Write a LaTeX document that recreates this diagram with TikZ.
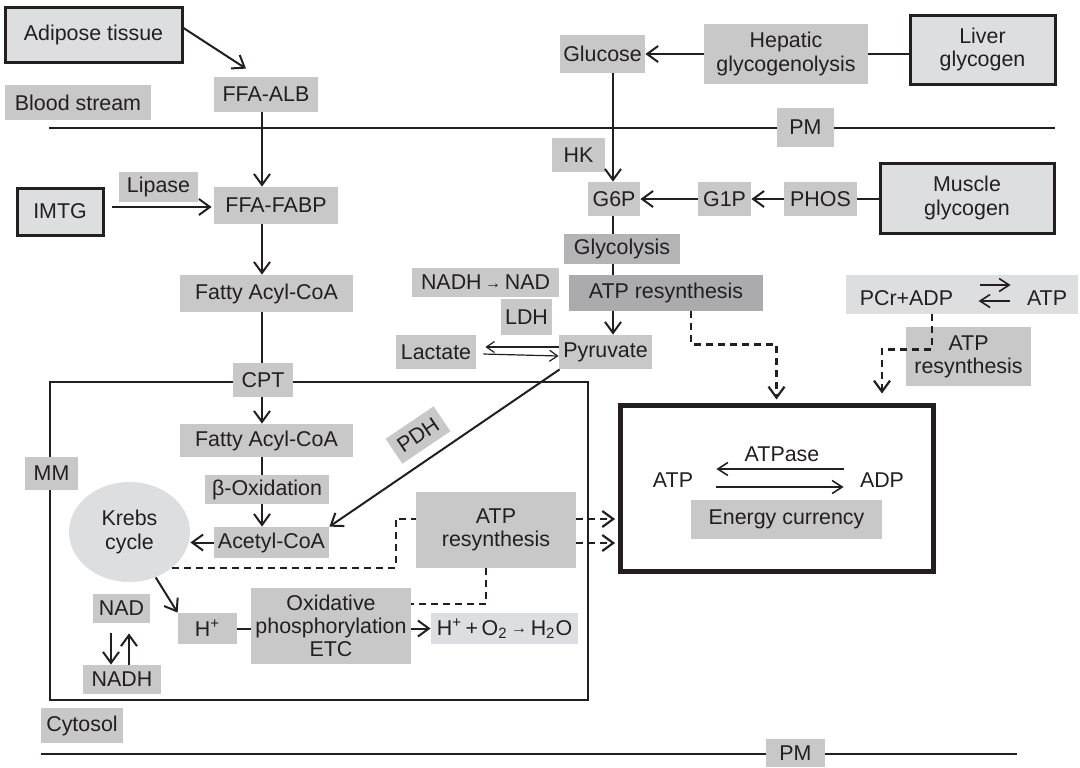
\documentclass[tikz,border=0pt]{standalone}
\usepackage{fontspec}
\setmainfont{Liberation Sans}
\usetikzlibrary{arrows.meta,shapes.geometric}
\definecolor{gfill}{HTML}{C8C8C9}
\definecolor{lfill}{HTML}{DDDEE0}
\definecolor{dfillA}{HTML}{B4B4B6}
\definecolor{dfillB}{HTML}{ABABAD}
\definecolor{ink}{HTML}{231F20}
\newcommand{\smallarr}{\,{\fontsize{8}{8}\selectfont\raisebox{0.6pt}{→}}\,}
\begin{document}
\begin{tikzpicture}[x=0.5pt,y=-0.5pt,
  every node/.style={font=\fontsize{10.7}{11.6}\selectfont, text=ink, inner sep=0pt, align=center},
  sz/.style 2 args={minimum width=#1*0.5pt, minimum height=#2*0.5pt},
  gbox/.style={fill=gfill},
  tbox/.style={fill=lfill, draw=ink, line width=1.5pt},
  arr/.style={draw=ink, line width=1pt, -{Straight Barb[length=5.5pt,width=8pt]}},
  plain/.style={draw=ink, line width=1pt},
  thinarr/.style={draw=ink, line width=0.6pt, -{Straight Barb[length=4pt,width=5.5pt]}},
  midarr/.style={draw=ink, line width=0.8pt, -{Straight Barb[length=5pt,width=6.5pt]}},
  dsh/.style={draw=ink, line width=1.1pt, dash pattern=on 3.5pt off 2.5pt},
  dsharr/.style={dsh, -{Straight Barb[length=5.5pt,width=8pt]}},
]
\useasboundingbox (0,0) rectangle (1080,767);
\coordinate (vx) at (262,0);
\coordinate (vg) at (613,0);
% membranes and mitochondrion
\draw[plain] (49,128) -- (1055,128);
\draw[plain] (41,754) -- (1017,754);
\draw[draw=ink, line width=1.25pt] (50,382) rectangle (588,700);

% nodes
\node[tbox, sz={177}{55}] (adipose) at (93.5,34.5) {Adipose tissue};
\node[gbox, sz={104}{35}] (ffaalb) at (266,94.5) {FFA-ALB};
\node[gbox, sz={146}{35}] (blood) at (78,102.5) {Blood stream};
\node[gbox, sz={57}{39}] (pmtop) at (805.5,127.5) {PM};
\node[gbox, sz={124}{37}] (ffafabp) at (276,205.5) {FFA-FABP};
\node[tbox, sz={86}{47}] (imtg) at (60,211.5) {IMTG};
\node[gbox, sz={79}{30}] (lipase) at (158.5,187) {Lipase};
\node[gbox, sz={173}{37}] (fa1) at (266.5,293.5) {Fatty Acyl-CoA};
\node[gbox, sz={60}{34}] (cpt) at (263,380) {CPT};
\node[gbox, sz={173}{33}] (fa2) at (266.5,440.5) {Fatty Acyl-CoA};
\node[gbox, sz={124}{29}] (boxid) at (267,489.5) {β-Oxidation};
\node[gbox, sz={115}{31}] (acetyl) at (271.5,542.5) {Acetyl-CoA};
\node[gbox, sz={53}{33}] (mm) at (51.5,473.5) {MM};
\node[ellipse, fill=lfill, sz={121}{100}] (krebs) at (129.5,532) {Krebs\\cycle};
\node[gbox, sz={59}{31}] (hplus) at (207.5,628.5) {H\textsuperscript{+}};
\node[gbox, sz={160}{76}] (oxid) at (331,626) {Oxidative\\phosphorylation\\ETC};
\node[fill=lfill, sz={147}{31}] (h2o) at (504.5,628.5) {H\textsuperscript{+}\,+\,O\textsubscript{2}\smallarr H\textsubscript{2}O};
\node[gbox, sz={57}{29}] (nad) at (121.5,608.5) {NAD};
\node[gbox, sz={78}{29}] (nadh) at (122,679.5) {NADH};
\node[gbox, sz={82}{35}] (cytosol) at (82,725.5) {Cytosol};
\node[gbox, sz={59}{28}] (pmbot) at (795.5,753) {PM};
\node[gbox, sz={160}{76}] (atpmito) at (496,530) {ATP\\resynthesis};

\node[draw=ink, line width=2.5pt, sz={313}{166}] (energy) at (776.5,488) {};
\node (eatp) at (673,480.5) {ATP};
\node (eadp) at (882,480.5) {ADP};
\node (atpase) at (782,454) {ATPase};
\node[gbox, sz={191}{39}] (ecur) at (786.5,519.5) {Energy currency};

\node[fill=lfill, sz={232}{39}] (pcr) at (962,294.5) {};
\node (pcrl) at (906.5,298) {PCr+ADP};
\node (pcratp) at (1047,298) {ATP};
\node[gbox, sz={125}{59}] (atppcr) at (968.5,356.5) {ATP\\resynthesis};

\node[gbox, sz={85}{38}] (glucose) at (602.5,54) {Glucose};
\node[gbox, sz={164}{60}] (hepatic) at (786,54) {Hepatic\\glycogenolysis};
\node[tbox, sz={145}{69}] (liver) at (982.5,49.5) {Liver\\glycogen};
\node[gbox, sz={53}{34}] (hk) at (578.5,155) {HK};
\node[gbox, sz={52}{34}] (g6p) at (614,199) {G6P};
\node[gbox, sz={53}{34}] (g1p) at (724.5,199) {G1P};
\node[gbox, sz={73}{34}] (phos) at (820.5,199) {PHOS};
\node[tbox, sz={174}{70}] (muscle) at (967,198) {Muscle\\glycogen};
\node[fill=dfillA, sz={116}{30}] (glyco) at (622,249) {Glycolysis};
\node[fill=dfillB, sz={194}{36}] (atpgly) at (666,293) {ATP resynthesis};
\node[gbox, sz={93}{34}] (pyr) at (605.5,352) {Pyruvate};
\node[gbox, sz={147}{29}] (nadhnad) at (485.5,282.5) {NADH\smallarr NAD};
\node[gbox, sz={51}{36}] (ldh) at (526.5,317) {LDH};
\node[gbox, sz={80}{34}] (lactate) at (436,352) {Lactate};
\node[gbox, rotate=34, sz={58}{30}] (pdh) at (418,435) {PDH};

% connectors: fatty acids
\draw[arr] ([yshift=3.25pt]adipose.east) -- ([shift={(-20,-8)}]ffaalb.north);
\draw[arr] (ffaalb.south -| vx) -- (ffafabp.north -| vx);
\draw[arr] ([shift={(7,-4.5)}]imtg.east) -- ([shift={(-2,1.5)}]ffafabp.west);
\draw[arr] (ffafabp.south -| vx) -- (fa1.north -| vx);
\draw[plain] (fa1.south -| vx) -- (cpt.north -| vx);
\draw[arr] (cpt.south -| vx) -- (fa2.north -| vx);
\draw[plain] (fa2.south -| vx) -- (boxid.north -| vx);
\draw[arr] (boxid.south -| vx) -- (acetyl.north -| vx);
\draw[arr] (acetyl.west) -- ([yshift=-5.25pt]krebs.east);
\draw[arr] (krebs.-60) -- (hplus.north west);
\draw[plain] (hplus.east) -- (hplus.east -| oxid.west);
\draw[arr] (oxid.east |- h2o.west) -- (h2o.west);
\draw[arr] ([shift={(-10.5,10)}]nad.south) -- ([shift={(-11,0)}]nadh.north);
\draw[arr] ([shift={(7,0)}]nadh.north) -- ([shift={(7.5,10)}]nad.south);

% glucose
\draw[plain] (liver.west |- hepatic.east) -- (hepatic.east);
\draw[arr] (hepatic.west) -- (glucose.east);
\draw[arr] (glucose.south -| vg) -- (g6p.north -| vg);
\draw[arr] (g1p.west) -- (g6p.east);
\draw[arr] (phos.west) -- (g1p.east);
\draw[plain] (muscle.west |- phos.east) -- (phos.east);
\draw[plain] (g6p.south -| vg) -- (glyco.north -| vg);
\draw[plain] (glyco.south -| vg) -- (atpgly.north -| vg);
\draw[arr] (atpgly.south -| vg) -- (pyr.north -| vg);
\draw[thinarr] ([yshift=2.5pt]pyr.west) -- ([shift={(9,-5)}]lactate.east);
\draw[thinarr] ([shift={(7,2)}]lactate.east) -- ([yshift=-2pt]pyr.west);
\draw[arr] ([xshift=0.5pt]pyr.south west) -- (acetyl.north east);

% energy box internals
\draw[midarr] ([shift={(-16,-11.5)}]eadp.west) -- ([shift={(23,-11.5)}]eatp.east);
\draw[midarr] ([shift={(23,6.5)}]eatp.east) -- ([shift={(-16,6.5)}]eadp.west);
\draw[midarr] ([shift={(-47,-13)}]pcratp.west) -- ([shift={(-16,-13)}]pcratp.west);
\draw[midarr] ([shift={(-17,3)}]pcratp.west) -- ([shift={(-48,3)}]pcratp.west);

% dashed ATP flows
\draw[dsh] (krebs.-40) -| ([shift={(-20,-11)}]atpmito.west) -- ([yshift=5.5pt]atpmito.west);
\draw[dsh] ([xshift=-5pt]atpmito.south) |- ([shift={(0,-22)}]oxid.east);
\draw[dsharr, shorten >=1.2pt] ([yshift=5.5pt]atpmito.east) -- ([yshift=5.5pt]atpmito.east -| energy.west);
\draw[dsharr, shorten >=1.2pt] ([yshift=-6.5pt]atpmito.east) -- ([yshift=-6.5pt]atpmito.east -| energy.west);
\draw[dsharr] ([xshift=12.5pt]atpgly.south) |- ([yshift=29pt]energy.north) -- ([yshift=1.5pt]energy.north);
\draw[dsharr] ([xshift=-15pt]pcr.south) |- ([shift={(105.5,-53)}]energy.north) -- ([shift={(105.5,-9)}]energy.north);
\end{tikzpicture}
\end{document}
